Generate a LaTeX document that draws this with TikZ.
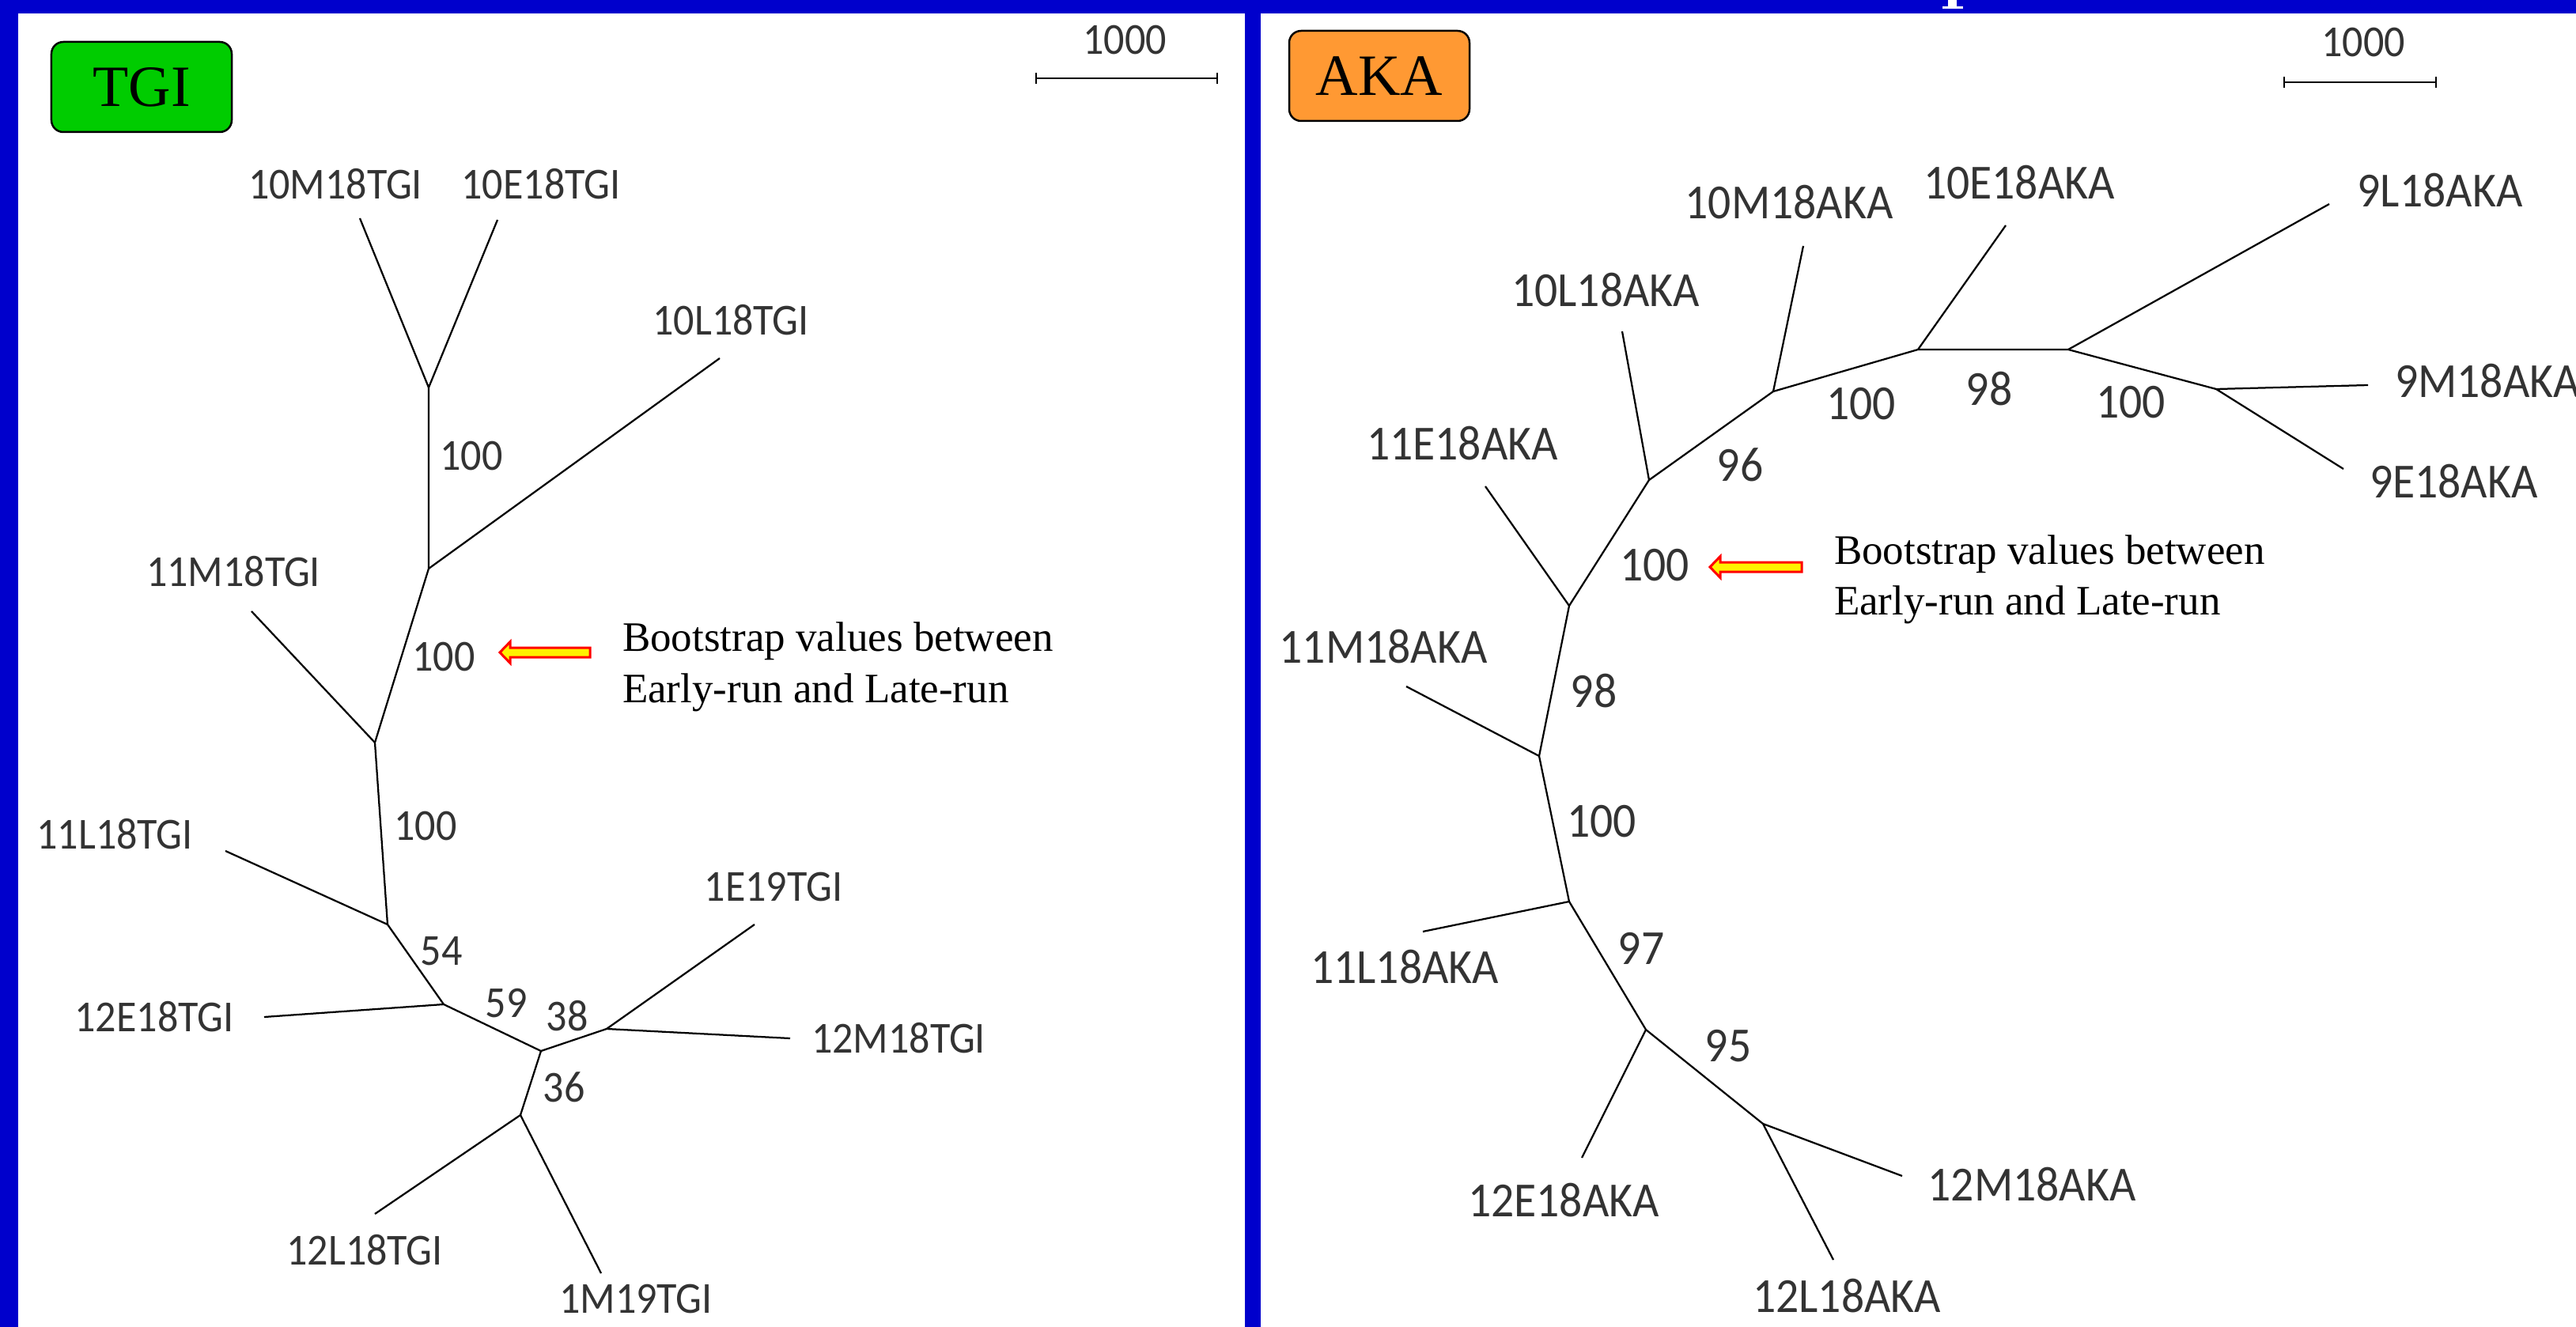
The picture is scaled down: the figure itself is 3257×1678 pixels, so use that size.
\documentclass[tikz,border=0pt]{standalone}
\usepackage{xcolor}
\usepackage{fontspec}
\setmainfont{Liberation Serif}
\newfontfamily\treefont[FakeStretch=0.93]{Carlito}
\usepackage{tikz}

\definecolor{frameblue}{RGB}{0,0,204}
\definecolor{tgigreen}{RGB}{0,204,0}
\definecolor{akaorange}{RGB}{255,153,51}

\tikzset{
  branch/.style={line width=0.45pt},
  taxonL/.style={inner sep=0pt, text=black!80, font=\treefont\fontsize{11.2}{13}\selectfont},
  taxonR/.style={inner sep=0pt, text=black!80, font=\treefont\fontsize{12.4}{14}\selectfont},
  boxlabel/.style={draw, line width=0.5pt, rounded corners=3pt, minimum width=45.6pt, minimum height=22.8pt, inner sep=0pt, font=\fontsize{14.8}{16}\selectfont},
  hint/.style={anchor=base west, align=left, inner sep=0pt, font=\fontsize{10.6}{13}\selectfont},
  hintarrow/.style={draw=red, line width=0.6pt, fill=yellow},
}

\begin{document}
\begin{tikzpicture}[x=0.2pt,y=-0.2pt]
\useasboundingbox (0,0) rectangle (3257,1678);
\clip (0,0) rectangle (3257,1678);
\fill[white] (0,0) rectangle (3257,1678);

% frame
\fill[frameblue] (0,0) rectangle (3257,17);
\fill[frameblue] (0,0) rectangle (23,1678);
\fill[frameblue] (1574,0) rectangle (1594,1678);
\fill[white] (2463,0) rectangle (2474,10);
\fill[white] (2456,8) rectangle (2482,11);

% ---------------- TGI ----------------
\node[boxlabel, fill=tgigreen] (tgi) at (179,110) {TGI};

\coordinate (sbLa) at (1310,99);
\coordinate (sbLb) at (1539,99);
\draw[branch] (sbLa) -- (sbLb);
\draw[branch] ([yshift=-1.4pt]sbLa) -- ([yshift=1.4pt]sbLa);
\draw[branch] ([yshift=-1.4pt]sbLb) -- ([yshift=1.4pt]sbLb);
\node[taxonL] (sbLt) at (1422,51) {1000};

\coordinate (tA) at (542,490);
\coordinate (tB) at (542,719);
\coordinate (tC) at (474,939);
\coordinate (tD) at (490,1169);
\coordinate (tE) at (561,1270);
\coordinate (tF) at (684,1329);
\coordinate (tG) at (767,1301);
\coordinate (tH) at (658,1410);

\coordinate (t10M) at (455,276);
\coordinate (t10E) at (629,278);
\coordinate (t10L) at (910,453);
\coordinate (t11M) at (318,773);
\coordinate (t11L) at (285,1076);
\coordinate (t12E) at (334,1286);
\coordinate (t1E) at (954,1169);
\coordinate (t12M) at (999,1313);
\coordinate (t12L) at (474,1535);
\coordinate (t1M) at (760,1610);

\draw[branch] (t10M) -- (tA) -- (t10E);
\draw[branch] (tA) -- (tB) -- (tC) -- (tD) -- (tE) -- (tF) -- (tG);
\draw[branch] (tB) -- (t10L);
\draw[branch] (tC) -- (t11M);
\draw[branch] (tD) -- (t11L);
\draw[branch] (tE) -- (t12E);
\draw[branch] (tG) -- (t1E);
\draw[branch] (tG) -- (t12M);
\draw[branch] (tF) -- (tH) -- (t12L);
\draw[branch] (tH) -- (t1M);

\node[taxonL] (n10M) at (424,233) {10M18TGI};
\node[taxonL] (n10E) at (684,233) {10E18TGI};
\node[taxonL] (n10L) at (924,405) {10L18TGI};
\node[taxonL] (n11M) at (295,723) {11M18TGI};
\node[taxonL] (n11L) at (145,1055) {11L18TGI};
\node[taxonL] (n12E) at (195,1286) {12E18TGI};
\node[taxonL] (n1E) at (978,1122) {1E19TGI};
\node[taxonL] (n12M) at (1136,1313) {12M18TGI};
\node[taxonL] (n12L) at (461,1581) {12L18TGI};
\node[taxonL] (n1M) at (804,1643) {1M19TGI};

\node[taxonL] (bAB) at (596,577) {100};
\node[taxonL] (bBC) at (561,831) {100};
\node[taxonL] (bCD) at (538,1045) {100};
\node[taxonL] (bDE) at (558,1203) {54};
\node[taxonL] (bEF) at (640,1269) {59};
\node[taxonL] (bFG) at (717,1285) {38};
\node[taxonL] (bFH) at (713,1375) {36};

\draw[hintarrow] (632,825) -- (645,811.5) -- (645,819) -- (746,819) -- (746,831) -- (645,831) -- (645,838.5) -- cycle;
\node[hint] (hintL) at (786,888) {Bootstrap values between\\Early-run and Late-run};

% ---------------- AKA ----------------
\node[boxlabel, fill=akaorange] (aka) at (1744,96) {AKA};

\coordinate (sbRa) at (2888,104);
\coordinate (sbRb) at (3080,104);
\draw[branch] (sbRa) -- (sbRb);
\draw[branch] ([yshift=-1.4pt]sbRa) -- ([yshift=1.4pt]sbRa);
\draw[branch] ([yshift=-1.4pt]sbRb) -- ([yshift=1.4pt]sbRb);
\node[taxonL] (sbRt) at (2988,54) {1000};

\coordinate (aP) at (2802,492);
\coordinate (aQ) at (2615,442);
\coordinate (aR) at (2425,442);
\coordinate (aS) at (2242,495);
\coordinate (aT) at (2085,607);
\coordinate (aU) at (1984,766);
\coordinate (aV) at (1946,956);
\coordinate (aW) at (1984,1140);
\coordinate (aX) at (2081,1302);
\coordinate (aY) at (2229,1421);

\coordinate (a9M) at (2994,487);
\coordinate (a9E) at (2963,593);
\coordinate (a9L) at (2945,258);
\coordinate (a10E) at (2536,285);
\coordinate (a10M) at (2280,311);
\coordinate (a10L) at (2051,419);
\coordinate (a11E) at (1878,615);
\coordinate (a11M) at (1778,868);
\coordinate (a11L) at (1799,1178);
\coordinate (a12E) at (2000,1464);
\coordinate (a12M) at (2405,1487);
\coordinate (a12L) at (2318,1593);

\draw[branch] (a9M) -- (aP) -- (a9E);
\draw[branch] (aP) -- (aQ) -- (aR) -- (aS) -- (aT) -- (aU) -- (aV) -- (aW) -- (aX) -- (aY);
\draw[branch] (aQ) -- (a9L);
\draw[branch] (aR) -- (a10E);
\draw[branch] (aS) -- (a10M);
\draw[branch] (aT) -- (a10L);
\draw[branch] (aU) -- (a11E);
\draw[branch] (aV) -- (a11M);
\draw[branch] (aW) -- (a11L);
\draw[branch] (aX) -- (a12E);
\draw[branch] (a12M) -- (aY) -- (a12L);

\node[taxonR] (m10M) at (2262,256) {10M18AKA};
\node[taxonR] (m10E) at (2553,231) {10E18AKA};
\node[taxonR] (m9L) at (3085,241) {9L18AKA};
\node[taxonR, anchor=base west] (m9M) at (3027,503) {9M18AKA};
\node[taxonR, anchor=base west] (m9E) at (2995,630) {9E18AKA};
\node[taxonR] (m10L) at (2030,367) {10L18AKA};
\node[taxonR] (m11E) at (1849,561) {11E18AKA};
\node[taxonR] (m11M) at (1749,818) {11M18AKA};
\node[taxonR] (m11L) at (1776,1223) {11L18AKA};
\node[taxonR] (m12E) at (1977,1518) {12E18AKA};
\node[taxonR] (m12M) at (2569,1498) {12M18AKA};
\node[taxonR] (m12L) at (2335,1639) {12L18AKA};

\node[taxonR] (bPQ) at (2694,509) {100};
\node[taxonR] (bQR) at (2515,492) {98};
\node[taxonR] (bRS) at (2353,511) {100};
\node[taxonR] (bST) at (2200,588) {96};
\node[taxonR] (bTU) at (2092,715) {100};
\node[taxonR] (bUV) at (2015,874) {98};
\node[taxonR] (bVW) at (2025,1039) {100};
\node[taxonR] (bWX) at (2075,1199) {97};
\node[taxonR] (bXY) at (2185,1323) {95};

\draw[hintarrow] (2162,717) -- (2175,703.5) -- (2175,711) -- (2278,711) -- (2278,723) -- (2175,723) -- (2175,730.5) -- cycle;
\node[hint] (hintR) at (2318,778) {Bootstrap values between\\Early-run and Late-run};
\end{tikzpicture}
\end{document}
